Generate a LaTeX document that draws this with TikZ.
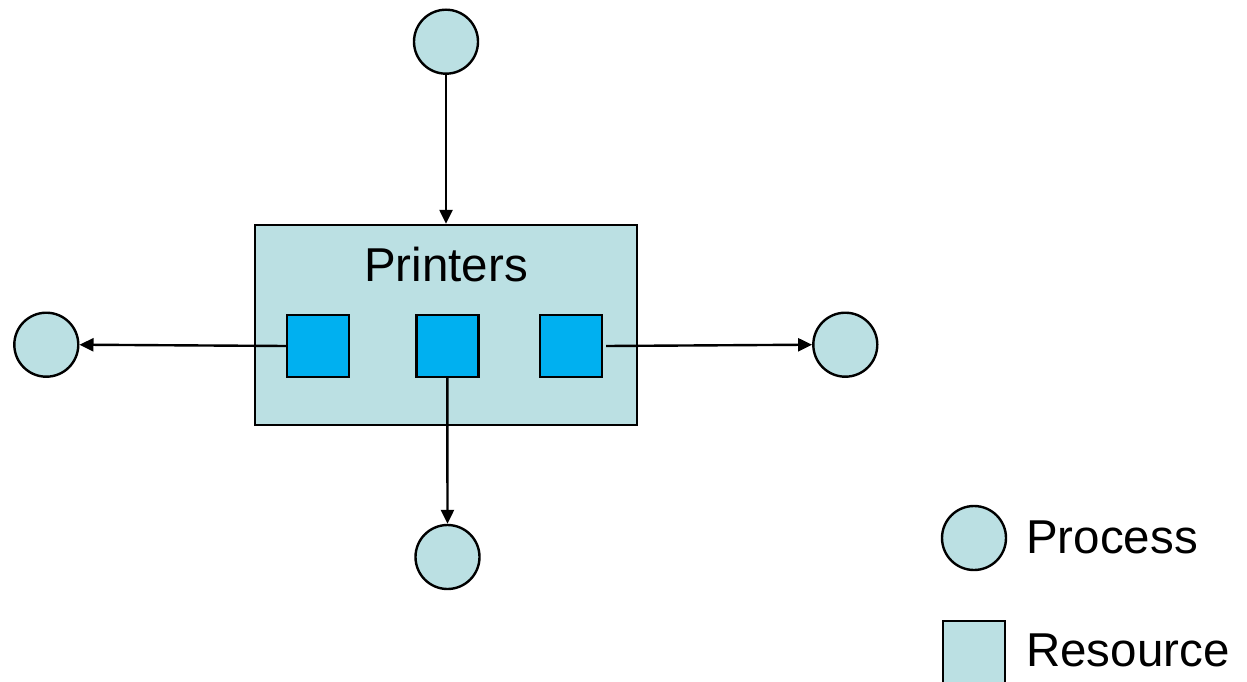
\documentclass[tikz,border=0pt]{standalone}
\usepackage{fontspec}
\setmainfont{Liberation Sans}
\usetikzlibrary{arrows.meta}
\definecolor{lightfill}{HTML}{BBE0E3}
\definecolor{resblue}{HTML}{00B0F0}
\begin{document}
\begin{tikzpicture}[x=1pt,y=-1pt,
  proc/.style={circle,draw=black,line width=2.4pt,fill=lightfill,minimum size=64pt,inner sep=0pt},
  unit/.style={rectangle,draw=black,line width=2.4pt,fill=resblue,minimum size=62pt,inner sep=0pt},
  pool/.style={rectangle,draw=black,line width=2.4pt,fill=lightfill,minimum width=382pt,minimum height=200pt,inner sep=0pt},
  legbox/.style={rectangle,draw=black,line width=2.4pt,fill=lightfill,minimum size=62pt,inner sep=0pt},
  lbl/.style={font=\fontsize{47.5}{56}\selectfont,inner sep=0pt},
  arr/.style={line width=2.4pt,-{Triangle[length=14pt,width=13pt]}}]
\useasboundingbox (0,0) rectangle (1247,682);
\node[pool] (box) at (445.7,325) {};
\node[lbl,anchor=base] (ptxt) at (446,281) {Printers};
\node[unit] (sq1) at (318,346) {};
\node[unit] (sq2) at (447.3,346) {};
\node[unit] (sq3) at (571,346) {};
\node[proc] (top) at (446,41.7) {};
\node[proc] (left) at (46.3,344.7) {};
\node[proc] (right) at (845.3,344.7) {};
\node[proc] (bottom) at (447.5,557) {};
\draw[arr] (top.south) -- (top.south |- box.north);
\draw[arr] (sq1.west) -- (left.east);
\draw[arr] ([xshift=3pt]sq3.east) -- (right.west);
\draw[arr] (sq2.south) -- (bottom.north);
\node[proc] (legproc) at (974,538) {};
\node[lbl,anchor=base west] (legproctxt) at (1026,553) {Process};
\node[legbox] (legres) at (974,652) {};
\node[lbl,anchor=base west] (legrestxt) at (1026,666.7) {Resource};
\end{tikzpicture}
\end{document}
